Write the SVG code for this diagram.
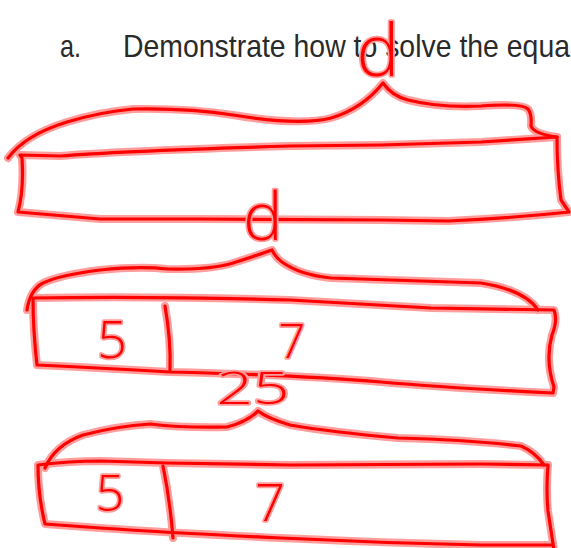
<svg xmlns="http://www.w3.org/2000/svg" width="571" height="548" viewBox="0 0 571 548">
<style>
.print{font-family:"Liberation Sans",Arial,sans-serif;font-size:32px;fill:#2a2a2a}
.halo{fill:none;stroke:#ff9d9d;stroke-width:8;stroke-linecap:round;stroke-linejoin:round}
.core{fill:none;stroke:#ff0000;stroke-width:3.2;stroke-linecap:round;stroke-linejoin:round}
.hand{font-family:"Open Sans","DejaVu Sans",sans-serif;font-weight:300;fill:#ff0000;stroke:#ff9d9d;stroke-width:3.5;paint-order:stroke;stroke-linejoin:round;text-anchor:middle}
</style>
<defs>
<path id="brace1" d="M8,158 Q25,135 67,122 Q100,112 133,109 Q190,108 233,115 Q300,126 331,118 Q362,109 383,83 Q392,96 408,100 Q440,108 481,106 Q522,103 528,109 Q532,114 531,126 Q534,134 557,137"/>
<path id="box1" d="M20,155 L60,156 Q120,151 290,146 L381,145 L481,142 L557,137 Q557,170 561,200 L569,212 Q514,218 448,221 L381,220 L200,219 L100,219 L18,212 Q24,190 22,158 Z"/>
<path id="brace2" d="M27,310 Q30,290 43,283 Q60,275 100,270 Q140,266 167,269 Q210,270 233,263 Q255,256 272,250 Q276,258 282,262 Q300,275 331,278 Q400,280 481,283 Q525,290 538,310"/>
<path id="box2" d="M33,298 Q150,296 290,300 Q400,306 431,308 L554,310 Q558,320 552,335 Q545,360 554,387 L553,393 Q450,388 381,382 Q300,375 170,372 Q100,368 37,365 Q33,330 33,298 Z"/>
<path id="div2" d="M165,306 Q171,340 170,370"/>
<path id="brace3" d="M45,468 Q55,445 83,435 Q117,426 150,424 Q183,428 227,427 Q247,422 258,411 Q267,418 290,425 Q330,432 398,438 Q470,440 521,446 Q535,452 544,465"/>
<path id="box3" d="M554,550 Q551,530 548,511 Q546,490 548,465 L481,464 L290,465 L167,463 L100,461 Q70,461 38,465 Q38,495 45,524 L100,528 Q173,533 281,538 Q381,543 481,545 L551,545"/>
<path id="div3" d="M163,466 Q170,500 173,538"/>
</defs>
<rect width="571" height="548" fill="#ffffff"/>
<g id="heading">
<text class="print" x="60" y="57" textLength="21" lengthAdjust="spacingAndGlyphs">a.</text>
<text class="print" x="123" y="57" textLength="447" lengthAdjust="spacingAndGlyphs">Demonstrate how to solve the equa</text>
</g>
<g id="bar-whole">
<use href="#brace1" class="halo"/><use href="#box1" class="halo"/>
<use href="#brace1" class="core"/><use href="#box1" class="core"/>
<text class="hand" x="378" y="76" font-size="72">d</text>
</g>
<g id="bar-split">
<use href="#brace2" class="halo"/><use href="#box2" class="halo"/><use href="#div2" class="halo"/>
<use href="#brace2" class="core"/><use href="#box2" class="core"/><use href="#div2" class="core"/>
<text class="hand" x="263" y="240" font-size="66">d</text>
<text class="hand" x="112" y="358" font-size="52">5</text>
<text class="hand" x="292" y="358" font-size="47">7</text>
</g>
<g id="bar-total">
<use href="#brace3" class="halo"/><use href="#box3" class="halo"/><use href="#div3" class="halo"/>
<use href="#brace3" class="core"/><use href="#box3" class="core"/><use href="#div3" class="core"/>
<text class="hand" x="253" y="404" font-size="45" textLength="73" lengthAdjust="spacingAndGlyphs">25</text>
<text class="hand" x="110" y="511" font-size="50">5</text>
<text class="hand" x="270" y="521" font-size="52">7</text>
</g>
</svg>
